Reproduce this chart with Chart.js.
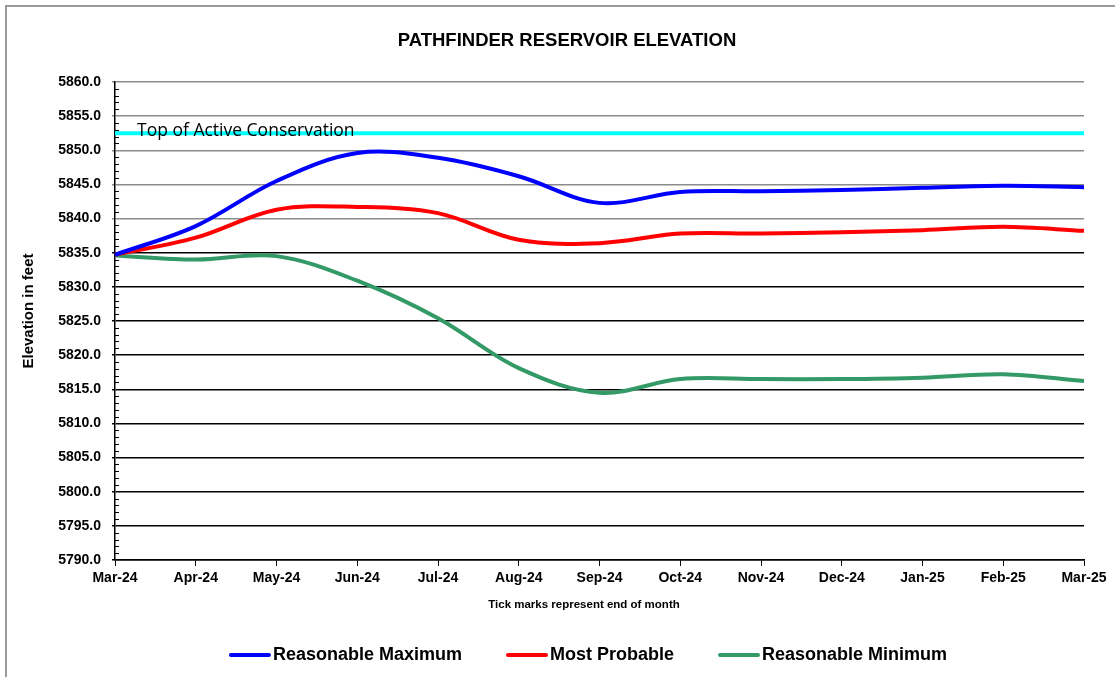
<!DOCTYPE html>
<html>
<head>
<meta charset="utf-8">
<title>Pathfinder Reservoir Elevation</title>
<script src="https://cdn.jsdelivr.net/npm/chart.js@4"></script>
<style>
  body { margin: 0; background: #fff; }
  canvas { display: block; }
</style>
</head>
<body>
<canvas id="elevationChart" width="1115" height="677"></canvas>
<script>
// Month-end labels
const months = ["Mar-24", "Apr-24", "May-24", "Jun-24", "Jul-24", "Aug-24", "Sep-24",
  "Oct-24", "Nov-24", "Dec-24", "Jan-25", "Feb-25", "Mar-25"];

// Elevations in feet
const reasonableMax = [5834.7, 5838.9, 5845.5, 5849.6, 5848.9, 5846.2, 5842.3,
  5843.9, 5844.0, 5844.2, 5844.5, 5844.8, 5844.6];
const mostProbable = [5834.7, 5837.2, 5841.3, 5841.7, 5840.8, 5836.9, 5836.4,
  5837.8, 5837.8, 5838.0, 5838.3, 5838.8, 5838.2];
const reasonableMin = [5834.6, 5834.0, 5834.5, 5830.9, 5825.4, 5818.1, 5814.5,
  5816.5, 5816.5, 5816.5, 5816.7, 5817.2, 5816.2];
const topOfActive = [5852.5, 5852.5, 5852.5, 5852.5, 5852.5, 5852.5, 5852.5,
  5852.5, 5852.5, 5852.5, 5852.5, 5852.5, 5852.5];

// y axis range
const yMin = 5790;
const yMax = 5860;
const yStep = 5;

const boldFont = "'Liberation Sans', Arial, sans-serif";

// Draws the frame, titles, minor ticks, note and legend
const decorations = {
  id: "decorations",
  beforeDraw(chart) {
    const ctx = chart.ctx;
    ctx.save();
    ctx.fillStyle = "#fff";
    ctx.fillRect(0, 0, chart.width, chart.height);
    // outer frame (top and left edges)
    ctx.strokeStyle = "#999";
    ctx.lineWidth = 2;
    ctx.beginPath();
    ctx.moveTo(6, chart.height);
    ctx.lineTo(6, 6);
    ctx.lineTo(chart.width, 6);
    ctx.stroke();
    ctx.restore();
  },
  afterDraw(chart) {
    const ctx = chart.ctx;
    const area = chart.chartArea;
    const yScale = chart.scales.y;
    ctx.save();

    // minor ticks every foot
    ctx.strokeStyle = "#000";
    ctx.lineWidth = 1;
    for (let v = yMin; v <= yMax; v++) {
      if (v % yStep === 0) continue;
      const y = Math.round(yScale.getPixelForValue(v)) + 0.5;
      ctx.beginPath();
      ctx.moveTo(area.left, y);
      ctx.lineTo(area.left + 4, y);
      ctx.stroke();
    }

    ctx.fillStyle = "#000";
    ctx.textBaseline = "middle";

    // chart title
    ctx.textAlign = "center";
    ctx.font = "bold 18.5px " + boldFont;
    ctx.fillText("PATHFINDER RESERVOIR ELEVATION", 567, 41);

    // note under x axis
    ctx.font = "bold 11.5px " + boldFont;
    ctx.fillText("Tick marks represent end of month", 584, 605);

    // y axis title
    ctx.save();
    ctx.translate(29, 311);
    ctx.rotate(-Math.PI / 2);
    ctx.font = "bold 15px " + boldFont;
    ctx.fillText("Elevation in feet", 0, 0);
    ctx.restore();

    // label on the conservation line
    ctx.textAlign = "left";
    ctx.font = "17.5px 'Open Sans', sans-serif";
    ctx.fillText("Top of Active Conservation", 137, yScale.getPixelForValue(topOfActive[0]) - 2);

    // legend
    const items = chart.data.datasets.filter((ds) => ds.showInLegend);
    ctx.font = "bold 18px " + boldFont;
    const lineLen = 38;
    const gap = 4;
    const itemGap = 46;
    let total = 0;
    items.forEach((ds, i) => {
      total += lineLen + gap + ctx.measureText(ds.label).width;
      if (i > 0) total += itemGap;
    });
    let x = 589 - total / 2;
    const ly = 655;
    items.forEach((ds) => {
      ctx.strokeStyle = ds.borderColor;
      ctx.lineWidth = 4;
      ctx.lineCap = "round";
      ctx.beginPath();
      ctx.moveTo(x, ly);
      ctx.lineTo(x + lineLen, ly);
      ctx.stroke();
      x += lineLen + gap;
      ctx.fillText(ds.label, x, ly);
      x += ctx.measureText(ds.label).width + itemGap;
    });

    ctx.restore();
  },
};

const ctx = document.getElementById("elevationChart").getContext("2d");
new Chart(ctx, {
  type: "line",
  data: {
    labels: months,
    datasets: [
      {
        label: "Top of Active Conservation",
        data: topOfActive,
        borderColor: "#00FFFF",
        borderWidth: 4,
        pointRadius: 0,
        tension: 0,
        showInLegend: false,
      },
      {
        label: "Reasonable Maximum",
        data: reasonableMax,
        borderColor: "#0000FF",
        borderWidth: 4,
        pointRadius: 0,
        tension: 0.35,
        showInLegend: true,
      },
      {
        label: "Most Probable",
        data: mostProbable,
        borderColor: "#FF0000",
        borderWidth: 4,
        pointRadius: 0,
        tension: 0.35,
        showInLegend: true,
      },
      {
        label: "Reasonable Minimum",
        data: reasonableMin,
        borderColor: "#339966",
        borderWidth: 4,
        pointRadius: 0,
        tension: 0.35,
        showInLegend: true,
      },
    ],
  },
  options: {
    responsive: false,
    animation: false,
    devicePixelRatio: 1,
    layout: {
      padding: { left: 0, right: 31, top: 82, bottom: 0 },
    },
    plugins: {
      legend: { display: false },
      title: { display: false },
      tooltip: { enabled: false },
    },
    scales: {
      x: {
        offset: false,
        grid: {
          drawOnChartArea: false,
          drawTicks: true,
          tickLength: 6,
          color: "#000",
        },
        border: { color: "#000", width: 1.5 },
        ticks: {
          color: "#000",
          padding: 4,
          maxRotation: 0,
          autoSkip: false,
          font: { family: boldFont, size: 14, weight: "bold" },
        },
        afterFit: (scale) => {
          scale.height = 117; // keeps the plot bottom at y=560
        },
      },
      y: {
        min: yMin,
        max: yMax,
        grid: {
          color: (c) => (c.tick && c.tick.value >= 5840 ? "#8c8c8c" : "#000"),
          lineWidth: 1.5,
          tickLength: 3,
        },
        border: { color: "#000", width: 1.5 },
        ticks: {
          stepSize: yStep,
          color: "#000",
          padding: 11,
          font: { family: boldFont, size: 14, weight: "bold" },
          callback: (v) => v.toFixed(1),
        },
        afterFit: (scale) => {
          scale.width = 115;
        },
      },
    },
  },
  plugins: [decorations],
});
</script>
</body>
</html>
